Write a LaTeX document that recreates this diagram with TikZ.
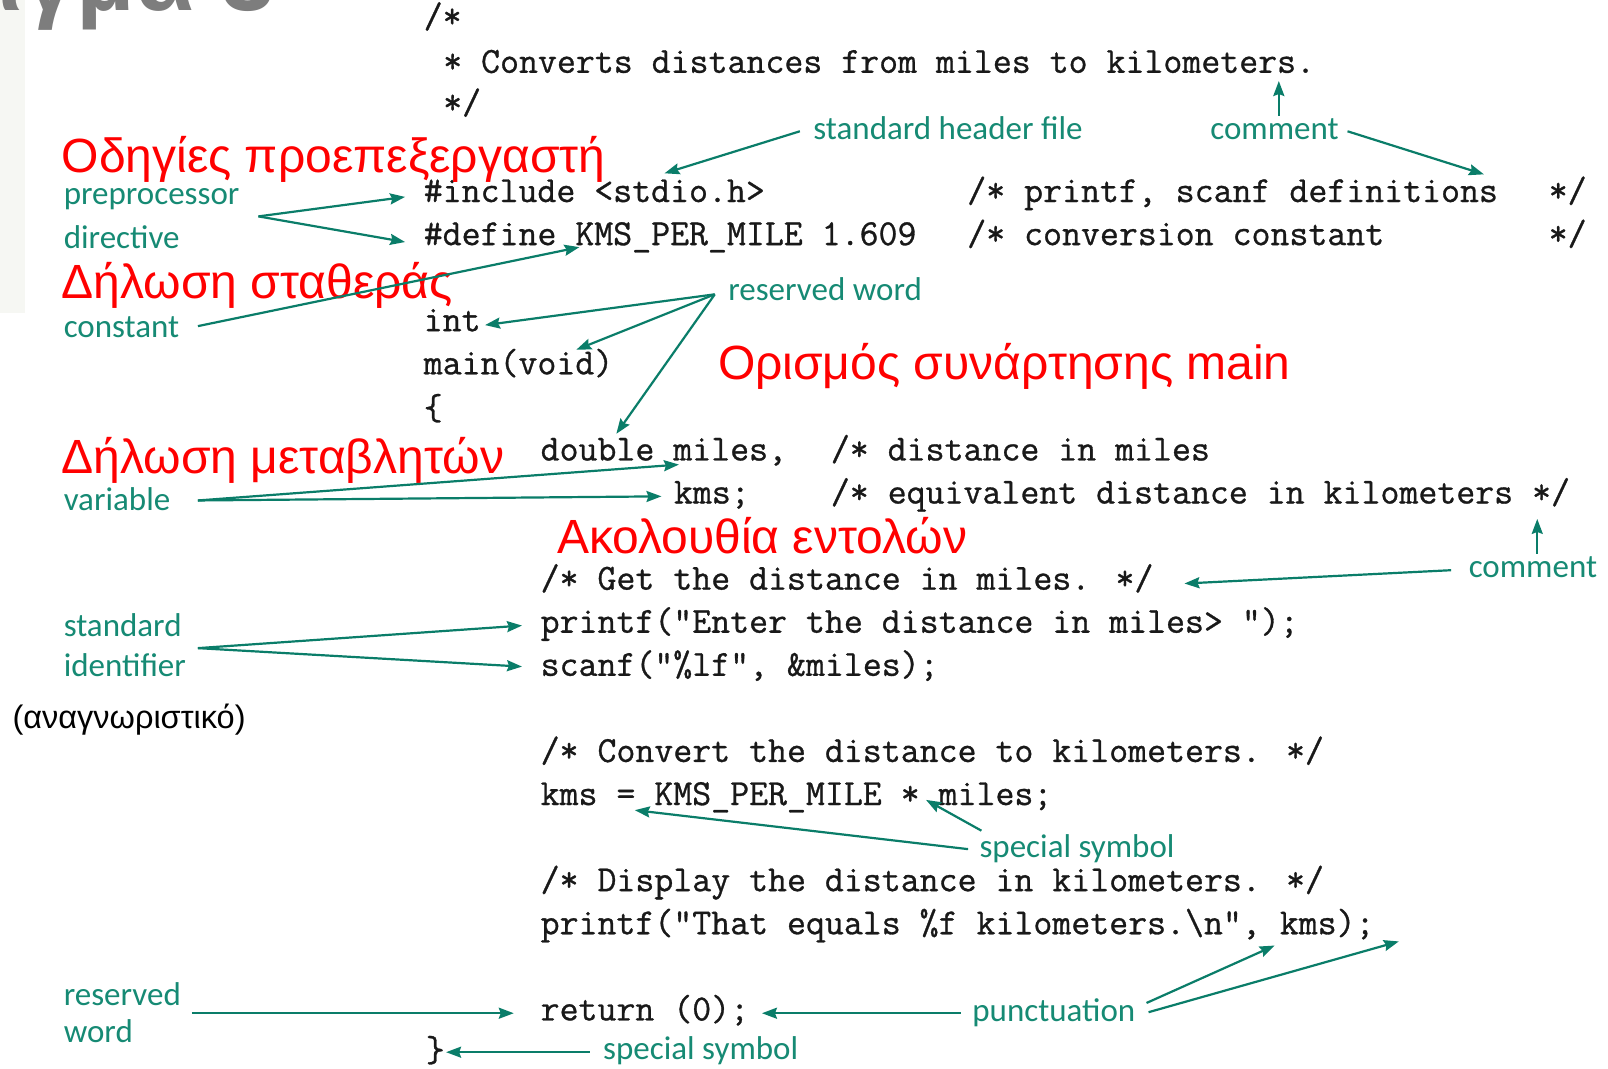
\documentclass[tikz,border=0pt]{standalone}
\usepackage{fontspec}
\setmainfont{Liberation Sans}
\newfontfamily\codefont{Latin Modern Mono}[FakeBold=0.8]
\newfontfamily\labfont{Carlito}
\usetikzlibrary{arrows.meta}
\definecolor{labteal}{RGB}{22,138,116}
\definecolor{arrteal}{RGB}{10,125,105}
\definecolor{codeink}{RGB}{25,25,25}
\definecolor{titlegrey}{RGB}{125,125,125}
\definecolor{panel}{RGB}{246,247,243}
\tikzset{
  code/.style={anchor=base west, inner sep=0pt, text=codeink,
    font=\codefont\fontsize{36.8}{36.8}\selectfont},
  lab/.style={anchor=base west, inner sep=0pt, text=labteal,
    font=\labfont\fontsize{33}{33}\selectfont},
  head/.style={anchor=base west, inner sep=0pt, text=red,
    font=\fontsize{48}{48}\selectfont},
  arr/.style={draw=arrteal, line width=2.2pt,
    -{Stealth[length=15pt,width=11pt,inset=2pt]}}
}
\begin{document}
\begin{tikzpicture}[x=1.0255pt,y=-1.0255pt]
\useasboundingbox (0,0) rectangle (1568,1041.5);
\clip (0,0) rectangle (1568,1041.5);
\fill[white] (0,0) rectangle (1568,1041.5);
% faint side panel and the tail of the slide title
\fill[panel] (0,0) rectangle (24,305);
\node[anchor=base east, inner sep=0pt, text=titlegrey,
  font=\fontsize{96}{96}\selectfont\bfseries] (title) at (268,10) {Παράδειγμα 3};

% ---- program text ----
\node[code] (cA) at (413,27) {/*};
\node[code] (cB) at (432,71) {* Converts distances from miles to kilometers.};
\node[code] (cC) at (432,111) {*/};
\node[code] (cInc) at (413,197) {\#include <stdio.h>};
\node[code] (cIncCm) at (943,197) {/* printf, scanf definitions};
\node[code] (cIncEnd) at (1510,197) {*/};
\node[code] (cDef) at (413,239) {\#define KMS\_PER\_MILE 1.609};
\node[code] (cDefCm) at (943,239) {/* conversion constant};
\node[code] (cDefEnd) at (1510,239) {*/};
\node[code] (cInt) at (413,323) {int};
\node[code] (cMain) at (413,365) {main(void)};
\node[code] (cOpen) at (413,409) {\{};
\node[code] (cDbl) at (527,449) {double miles,};
\node[code] (cDblCm) at (810,449) {/* distance in miles};
\node[code] (cKms) at (657,491) {kms;};
\node[code] (cKmsCm) at (810,491) {/* equivalent distance in kilometers */};
\node[code] (cGet) at (527,575) {/* Get the distance in miles. */};
\node[code] (cPrA) at (527,617) {printf("Enter the distance in miles> ");};
\node[code] (cScan) at (527,659) {scanf("\%lf", \&miles);};
\node[code] (cConv) at (527,743) {/* Convert the distance to kilometers. */};
\node[code] (cAsg) at (527,785) {kms = KMS\_PER\_MILE * miles;};
\node[code] (cDisp) at (527,869) {/* Display the distance in kilometers. */};
\node[code] (cPrB) at (527,911) {printf("That equals \%f kilometers.\textbackslash n", kms);};
\node[code] (cRet) at (527,995) {return (0);};
\node[code] (cClose) at (415,1035) {\}};

% ---- red headings ----
\node[head] (hPre) at (60,168) {Οδηγίες προεπεξεργαστή};
\node[head] (hConst) at (60,291) {Δήλωση σταθεράς};
\node[head] (hMain) at (700,370) {Ορισμός συνάρτησης main};
\node[head] (hVar) at (60,462) {Δήλωση μεταβλητών};
\node[head] (hSeq) at (543,540) {Ακολουθία εντολών};
\node[anchor=base west, inner sep=0pt, font=\fontsize{32.5}{32.5}\selectfont] (hId) at (12,710) {(αναγνωριστικό)};

% ---- teal labels ----
\node[lab] (lHdr) at (793,136) {standard header file};
\node[lab] (lCmA) at (1180,136) {comment};
\node[lab] (lPreA) at (62,199) {preprocessor};
\node[lab] (lPreB) at (62,242) {directive};
\node[lab] (lConst) at (62,329) {constant};
\node[lab] (lResA) at (710,293) {reserved word};
\node[lab] (lVar) at (62,498) {variable};
\node[lab] (lCmB) at (1432,563) {comment};
\node[lab] (lStdA) at (62,621) {standard};
\node[lab] (lStdB) at (62,660) {identifier};
\node[lab] (lSpA) at (955,836) {special symbol};
\node[lab] (lResB) at (62,980) {reserved};
\node[lab] (lResC) at (62,1017) {word};
\node[lab] (lPun) at (948,996) {punctuation};
\node[lab] (lSpB) at (588,1033) {special symbol};

% ---- connector ends ----
\coordinate (tHdr) at (780,128);   \coordinate (pHdr) at (648,169);
\coordinate (tCmUp) at (1247,113); \coordinate (pCmUp) at (1247,79);
\coordinate (tCmR) at (1314,128);  \coordinate (pCmR) at (1447,170);
\coordinate (tPre) at (252,211);
\coordinate (pInc) at (395,192);   \coordinate (pDef) at (395,236);
\coordinate (tConst) at (193,318); \coordinate (pConst) at (565,241);
\coordinate (tRes) at (697,287);
\coordinate (pInt) at (473,317);   \coordinate (pMain) at (562,341);
\coordinate (pDbl) at (601,423);
\coordinate (tVar) at (193,488);
\coordinate (pMiles) at (662,453); \coordinate (pKms) at (645,484);
\coordinate (tCmB) at (1499,540);  \coordinate (pCmB) at (1499,506);
\coordinate (tCmG) at (1415,556);  \coordinate (pGet) at (1155,569);
\coordinate (tStd) at (193,632);
\coordinate (pPr) at (509,610);    \coordinate (pSc) at (509,650);
\coordinate (tSpL) at (944,828);   \coordinate (pEq) at (619,790);
\coordinate (tSpS) at (957,810);   \coordinate (pStar) at (903,780);
\coordinate (tPunA) at (1118,978); \coordinate (pComma) at (1243,922);
\coordinate (tPunB) at (1120,987); \coordinate (pSemi) at (1364,918);
\coordinate (tPunC) at (937,988);  \coordinate (pRet) at (743,988);
\coordinate (tResB) at (187,988);  \coordinate (pRetW) at (501,988);
\coordinate (tSpB) at (575,1026);  \coordinate (pClose) at (435,1026);

% ---- connectors ----
\draw[arr] (tHdr) -- (pHdr);
\draw[arr] (tCmUp) -- (pCmUp);
\draw[arr] (tCmR) -- (pCmR);
\draw[arr] (tPre) -- (pInc);
\draw[arr] (tPre) -- (pDef);
\draw[arr] (tConst) -- (pConst);
\draw[arr] (tRes) -- (pInt);
\draw[arr] (tRes) -- (pMain);
\draw[arr] (tRes) -- (pDbl);
\draw[arr] (tVar) -- (pMiles);
\draw[arr] (tVar) -- (pKms);
\draw[arr] (tCmB) -- (pCmB);
\draw[arr] (tCmG) -- (pGet);
\draw[arr] (tStd) -- (pPr);
\draw[arr] (tStd) -- (pSc);
\draw[arr] (tSpL) -- (pEq);
\draw[arr] (tSpS) -- (pStar);
\draw[arr] (tPunA) -- (pComma);
\draw[arr] (tPunB) -- (pSemi);
\draw[arr] (tPunC) -- (pRet);
\draw[arr] (tResB) -- (pRetW);
\draw[arr] (tSpB) -- (pClose);
\end{tikzpicture}
\end{document}
